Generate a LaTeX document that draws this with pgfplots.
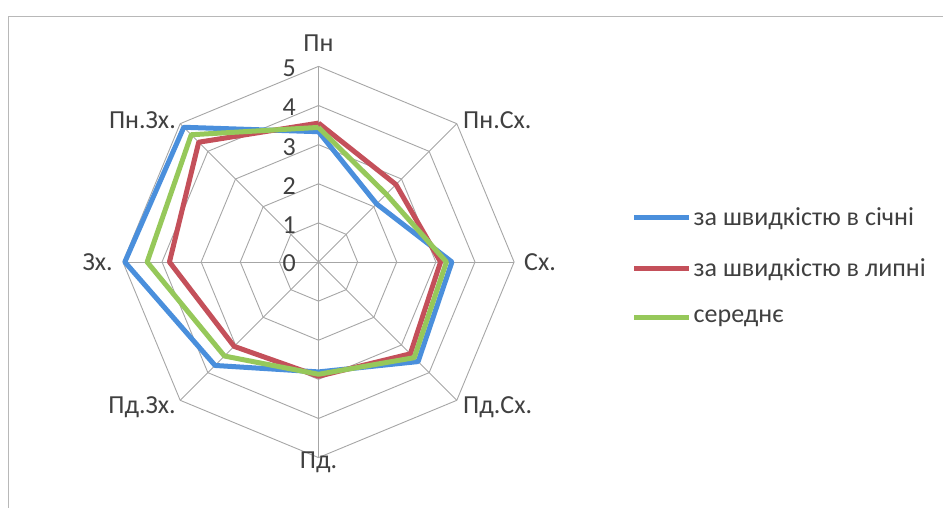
\documentclass[border=0pt]{standalone}
\usepackage{fontspec}
\setmainfont{Carlito}
\usepackage{pgfplots}
\pgfplotsset{compat=1.18}
\usepgfplotslibrary{polar}
\definecolor{cblue}{HTML}{4A8FDC}
\definecolor{cred}{HTML}{C4505A}
\definecolor{cgreen}{HTML}{96C85A}
\definecolor{cgrid}{HTML}{A6A6A6}
\definecolor{ctext}{HTML}{404040}
\begin{document}
\begin{tikzpicture}[x=1bp,y=1bp]
\draw[cgrid!80, line width=0.8bp] (8,-5) -- (8,492) -- (950,492);
\begin{polaraxis}[
  at={(318.5bp,246bp)}, anchor=origin,
  width=391.2bp, height=391.2bp, scale only axis,
  xmin=0, xmax=360, ymin=0, ymax=5,
  hide axis, clip=false,
  legend style={draw=none, fill=none, at={(axis description cs:1.30,0.49)}, anchor=west,
    font=\fontsize{26bp}{30bp}\selectfont, text=ctext, row sep=28bp, inner sep=0pt,
    nodes={inner sep=2bp}},
  legend cell align=left,
  legend image code/.code={\draw[#1] (0bp,0bp) -- (55bp,0bp);},
]
\pgfplotsinvokeforeach{1,2,3,4,5}{
  \addplot[cgrid, line width=0.9bp, no markers, forget plot] coordinates {(90,#1)(45,#1)(0,#1)(-45,#1)(-90,#1)(-135,#1)(-180,#1)(-225,#1)(-270,#1)};
}
\pgfplotsinvokeforeach{90,45,0,-45,-90,-135,-180,-225}{
  \addplot[cgrid, line width=0.9bp, no markers, forget plot] coordinates {(#1,0)(#1,5)};
}
% order: Пн, Пн.Сх., Сх., Пд.Сх., Пд., Пд.Зх., Зх., Пн.Зх.
\addplot[cblue, line width=5bp, line join=round, no markers] coordinates {
  (90,3.33)(45,2.10)(0,3.41)(-45,3.60)(-90,2.81)(-135,3.74)(-180,4.95)(-225,4.87)(-270,3.33)};
\addlegendentry{за швидкістю в січні}
\addplot[cred, line width=5bp, line join=round, no markers] coordinates {
  (90,3.55)(45,2.80)(0,3.12)(-45,3.32)(-90,2.92)(-135,3.05)(-180,3.81)(-225,4.33)(-270,3.55)};
\addlegendentry{за швидкістю в липні}
\addplot[cgreen, line width=5bp, line join=round, no markers] coordinates {
  (90,3.44)(45,2.45)(0,3.27)(-45,3.46)(-90,2.87)(-135,3.40)(-180,4.38)(-225,4.60)(-270,3.44)};
\addlegendentry{середнє}
\end{polaraxis}
\begin{scope}[every node/.style={font=\fontsize{26bp}{30bp}\selectfont, text=ctext, inner sep=0pt}]
\node[anchor=east] at (296,440) {5};
\node[anchor=east] at (296,401) {4};
\node[anchor=east] at (296,361) {3};
\node[anchor=east] at (296,322) {2};
\node[anchor=east] at (296,283) {1};
\node[anchor=east] at (296,245) {0};
\node at (318.5,465) {Пн};
\node[anchor=west] at (463,388) {Пн.Сх.};
\node[anchor=west] at (524,246) {Сх.};
\node[anchor=west] at (463,101) {Пд.Сх.};
\node at (318.5,46) {Пд.};
\node[anchor=east] at (176,101) {Пд.Зх.};
\node[anchor=east] at (113,246) {Зх.};
\node[anchor=east] at (176,388) {Пн.Зх.};
\end{scope}
\pgfresetboundingbox
\useasboundingbox (0,0) rectangle (943,508);
\end{tikzpicture}
\end{document}
